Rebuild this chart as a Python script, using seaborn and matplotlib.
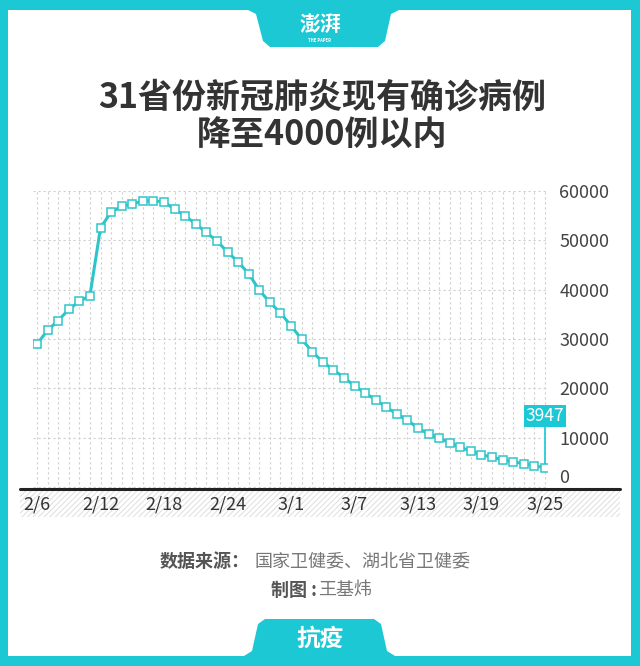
import matplotlib.pyplot as plt
import matplotlib.patches as mpatches
import matplotlib.lines as mlines
import pandas as pd
import seaborn as sns

# existing confirmed cases, daily from 2/6 to 3/25 (2020)
dates = ['2/6', '2/7', '2/8', '2/9', '2/10', '2/11', '2/12', '2/13', '2/14', '2/15',
         '2/16', '2/17', '2/18', '2/19', '2/20', '2/21', '2/22', '2/23', '2/24', '2/25',
         '2/26', '2/27', '2/28', '2/29', '3/1', '3/2', '3/3', '3/4', '3/5', '3/6',
         '3/7', '3/8', '3/9', '3/10', '3/11', '3/12', '3/13', '3/14', '3/15', '3/16',
         '3/17', '3/18', '3/19', '3/20', '3/21', '3/22', '3/23', '3/24', '3/25']
cases = [28985, 31774, 33738, 35982, 37626, 38800, 52526, 55748, 56873, 57416,
         57934, 58016, 57805, 56303, 54965, 53284, 51606, 49824, 47672, 45604,
         43258, 39919, 37414, 35329, 32652, 30004, 27433, 25352, 23784, 22177,
         20533, 19016, 17721, 16145, 14831, 13526, 11966, 10734, 9898, 8976,
         8056, 7263, 6569, 6013, 5549, 5120, 4735, 4287, 3947]
y_ticks = [0, 10000, 20000, 30000, 40000, 50000, 60000]
x_label_every = 6

title = '31省份新冠肺炎现有确诊病例\n降至4000例以内'
source_head = '数据来源：'
source_body = '国家卫健委、湖北省卫健委'
author_head = '制图 :'
author_body = '王基炜'

TEAL = '#1bc8d4'
LINE = '#2ec5c9'
W, H = 640, 666

sns.set_style('white')
plt.rcParams['font.family'] = ['Noto Sans CJK SC', 'DejaVu Sans']
plt.rcParams['hatch.linewidth'] = 0.7


def fx(x):
    return x / W


def fy(y):
    return 1 - y / H


fig = plt.figure(figsize=(6.4, 6.66), dpi=100)

# frame and tabs
for x0, y0, x1, y1 in [(0, 0, 640, 10), (0, 656, 640, 666), (0, 0, 8, 666), (631, 0, 640, 666)]:
    fig.add_artist(mpatches.Rectangle((fx(x0), fy(y1)), fx(x1 - x0), (y1 - y0) / H,
                                      transform=fig.transFigure, fc=TEAL, ec='none'))
top_tab = [(248, 10), (256, 14), (263, 41), (270, 47), (378, 47), (385, 41), (391, 14), (399, 10)]
fig.add_artist(mpatches.Polygon([(fx(a), fy(b)) for a, b in top_tab], closed=True,
                                transform=fig.transFigure, fc=TEAL, ec='none'))
bot_tab = [(244, 656), (252, 651), (258, 624), (265, 619), (374, 619), (381, 624), (387, 651), (395, 656)]
fig.add_artist(mpatches.Polygon([(fx(a), fy(b)) for a, b in bot_tab], closed=True,
                                transform=fig.transFigure, fc=TEAL, ec='none'))
fig.text(fx(320), fy(24), '澎湃', color='white', fontsize=15, fontweight='bold',
         ha='center', va='center')
fig.text(fx(320), fy(40), 'THE PAPER', color='white', fontsize=3, fontweight='bold',
         ha='center', va='center')
fig.text(fx(320), fy(639), '抗疫', color='white', fontsize=17, fontweight='bold',
         ha='center', va='center')

# title
fig.text(fx(322), fy(116), title, color='#333333', fontsize=24.5, fontweight='bold',
         ha='center', va='center', linespacing=1.12)

# chart
ax = fig.add_axes([fx(33), fy(489), (547 - 33) / W, (489 - 191) / H])
df = pd.DataFrame({'day': range(len(cases)), 'cases': cases})
sns.lineplot(data=df, x='day', y='cases', ax=ax, color=LINE, linewidth=2.2,
             marker='s', markersize=5.2, markerfacecolor='white',
             markeredgecolor=LINE, markeredgewidth=1.1, zorder=5)

ax.set_xlim(-0.38, len(cases) - 1 + 0.19)
ax.set_ylim(-400, 60000)
ax.set_xlabel('')
ax.set_ylabel('')
for s in ax.spines.values():
    s.set_visible(False)

ax.set_xticks(range(0, len(cases), x_label_every))
ax.set_xticklabels(dates[::x_label_every])
ax.set_xticks(range(len(cases)), minor=True)
ax.set_yticks(y_ticks)
ax.set_yticklabels([str(v) for v in y_ticks])
ax.yaxis.tick_right()
ax.tick_params(axis='both', which='both', length=0)
ax.tick_params(axis='x', labelsize=13, labelcolor='#333333', pad=5)
ax.tick_params(axis='y', labelsize=13, labelcolor='#444444', pad=9)
for lab in ax.get_xticklabels() + ax.get_yticklabels():
    lab.set_fontweight('light')
ax.get_yticklabels()[0].set_va('bottom')
ax.grid(True, axis='x', which='both', color='#cfcfcf', linestyle=(0, (2, 2.5)), linewidth=0.8)
ax.grid(True, axis='y', which='major', color='#cfcfcf', linestyle=(0, (2, 2.5)), linewidth=0.8)

# last value callout
ax.annotate(str(cases[-1]), xy=(len(cases) - 1, cases[-1]), xytext=(0, 37),
            textcoords='offset points', ha='center', va='center', color='white',
            fontsize=12.5, zorder=6,
            bbox=dict(boxstyle='square,pad=0.12', fc=TEAL, ec='none'),
            arrowprops=dict(arrowstyle='-', color=TEAL, lw=1.2, shrinkA=0, shrinkB=3))

# hatched band and base line under the axis
fig.add_artist(mpatches.Rectangle((fx(20), fy(517)), fx(600), 28 / H, transform=fig.transFigure,
                                  fc='white', ec='#dedede', lw=0, hatch='//////', zorder=0))
fig.add_artist(mlines.Line2D([fx(20), fx(620)], [fy(489), fy(489)], transform=fig.transFigure,
                             color='#222222', linewidth=2.2))

# footer
fig.text(fx(250), fy(561), source_head, color='#555555', fontsize=13, fontweight='bold',
         ha='right', va='center')
fig.text(fx(254), fy(561), source_body, color='#777777', fontsize=13, fontweight='light',
         ha='left', va='center')
fig.text(fx(317), fy(590), author_head, color='#555555', fontsize=13, fontweight='bold',
         ha='right', va='center')
fig.text(fx(318), fy(590), author_body, color='#777777', fontsize=13, fontweight='light',
         ha='left', va='center')

fig.savefig('out.png', dpi=100)
